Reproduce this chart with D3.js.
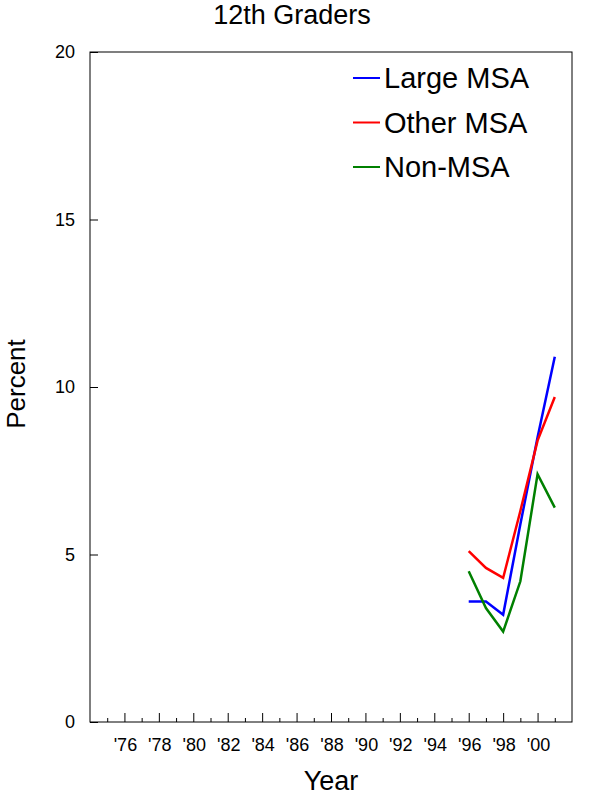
<!DOCTYPE html>
<html><head><meta charset="utf-8">
<script src="https://cdn.jsdelivr.net/npm/d3@7"></script>
<style>body{margin:0;background:#fff}svg{display:block;font-family:"Liberation Sans",Arial,sans-serif}</style>
</head><body>
<svg id="c" width="597" height="798"></svg>
<script>
const years = [1996, 1997, 1998, 1999, 2000, 2001];
const largeMSA = [3.6, 3.6, 3.2, 5.9, 8.5, 10.9];
const otherMSA = [5.1, 4.6, 4.3, 6.3, 8.4, 9.7];
const nonMSA = [4.5, 3.4, 2.7, 4.2, 7.4, 6.4];
const seriesNames = ["Large MSA", "Other MSA", "Non-MSA"];
const seriesColors = ["#0000ff", "#ff0000", "#008000"];
const yTicks = [0, 5, 10, 15, 20];
const xMajorYears = [1976,1978,1980,1982,1984,1986,1988,1990,1992,1994,1996,1998,2000];
const xMinorYears = [1975,1977,1979,1981,1983,1985,1987,1989,1991,1993,1995,1997,1999,2001];

const svg = d3.select("#c");
const L = 90, R = 572, T = 52, B = 722;
const x = d3.scaleLinear().domain([1974, 2002]).range([L, R]);
const y = d3.scaleLinear().domain([0, 20]).range([B, T]);

// frame
svg.append("rect").attr("x", L).attr("y", T).attr("width", R - L).attr("height", B - T)
  .attr("fill", "none").attr("stroke", "#000").attr("stroke-width", 1);

// y axis
const yAx = d3.axisRight(y).tickValues(yTicks).tickSize(8).tickFormat("");
svg.append("g").attr("transform", `translate(${L},0)`).call(yAx)
  .call(g => g.select(".domain").remove())
  .call(g => g.selectAll("line").attr("stroke", "#000"));
svg.append("g").selectAll("text").data(yTicks).join("text")
  .attr("x", 75).attr("y", d => y(d)).attr("dy", "0.35em").attr("text-anchor", "end")
  .attr("font-size", 18).text(d => d);

// x axis ticks (inward)
const xMaj = d3.axisTop(x).tickValues(xMajorYears).tickSize(9).tickFormat("");
svg.append("g").attr("transform", `translate(0,${B})`).call(xMaj)
  .call(g => g.select(".domain").remove())
  .call(g => g.selectAll("line").attr("stroke", "#000"));
const xMin = d3.axisTop(x).tickValues(xMinorYears).tickSize(4).tickFormat("");
svg.append("g").attr("transform", `translate(0,${B})`).call(xMin)
  .call(g => g.select(".domain").remove())
  .call(g => g.selectAll("line").attr("stroke", "#000"));
svg.append("g").selectAll("text").data(xMajorYears).join("text")
  .attr("x", d => x(d) + 1).attr("y", 751).attr("text-anchor", "middle")
  .attr("font-size", 18).text(d => "'" + String(d).slice(2));

// titles
svg.append("text").attr("x", 292).attr("y", 24).attr("text-anchor", "middle")
  .attr("font-size", 27).text("12th Graders");
svg.append("text").attr("x", (L + R) / 2).attr("y", 790).attr("text-anchor", "middle")
  .attr("font-size", 27).text("Year");
svg.append("text").attr("transform", "translate(25,384) rotate(-90)").attr("text-anchor", "middle")
  .attr("font-size", 26).text("Percent");

// lines
const data = [largeMSA, otherMSA, nonMSA];
const line = d3.line().x((d, i) => x(years[i])).y(d => y(d));
svg.append("g").selectAll("path").data(data).join("path")
  .attr("d", line).attr("fill", "none")
  .attr("stroke", (d, i) => seriesColors[i]).attr("stroke-width", 2.5);

// legend
const lg = svg.append("g");
seriesNames.forEach((n, i) => {
  const ly = 78 + i * 44.5;
  lg.append("line").attr("x1", 353).attr("x2", 380).attr("y1", ly).attr("y2", ly)
    .attr("stroke", seriesColors[i]).attr("stroke-width", 2);
  lg.append("text").attr("x", 384).attr("y", ly).attr("dy", "0.36em")
    .attr("font-size", 29).text(n);
});
</script>
</body></html>
